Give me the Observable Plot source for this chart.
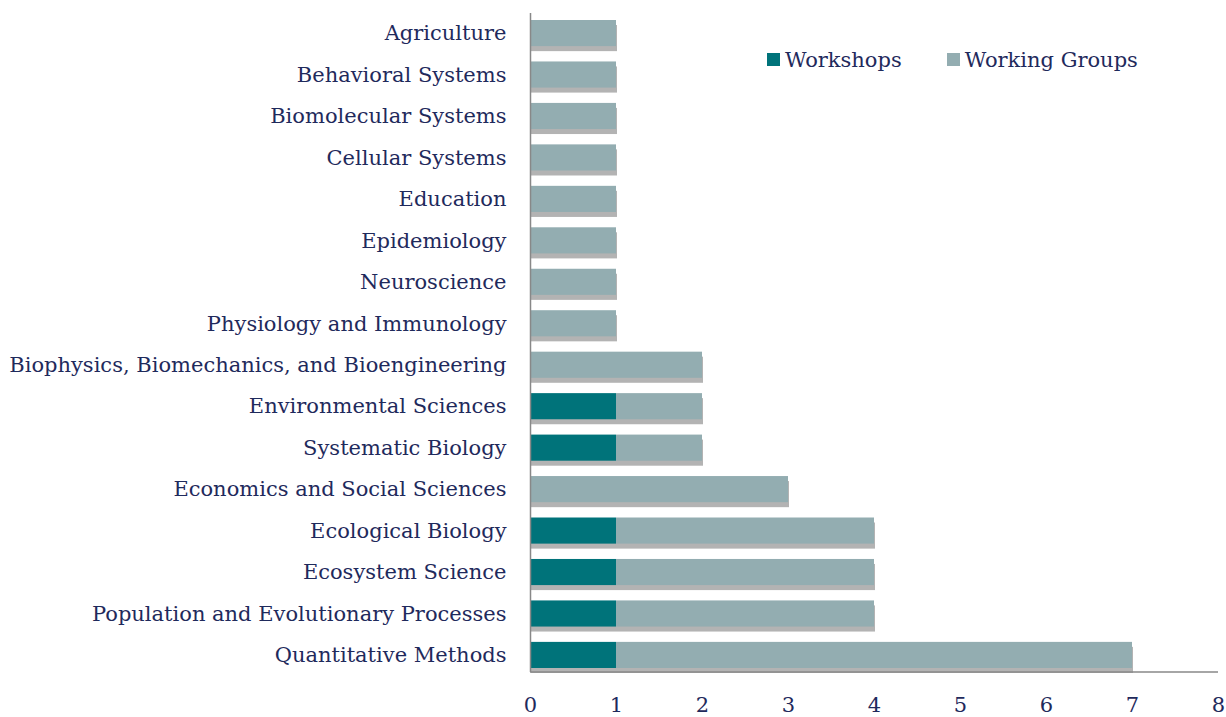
<!DOCTYPE html>
<html>
<head>
<meta charset="utf-8">
<script src="https://cdn.jsdelivr.net/npm/d3@7"></script>
<script src="https://cdn.jsdelivr.net/npm/@observablehq/plot@0.6"></script>
<style>
  html, body { margin: 0; padding: 0; background: #fff; }
  #wrap { position: relative; width: 1226px; height: 717px; }
  #legend { position: absolute; left: 767px; top: 48px; font-family: "DejaVu Serif", serif; font-size: 21px; color: #1f2a5c; display: flex; gap: 45px; white-space: nowrap; }
  #legend span.sw { display: inline-block; width: 13px; height: 13px; margin-right: 5px; vertical-align: 1px; }
</style>
</head>
<body>
<div id="wrap"><div id="legend"></div></div>
<script>
const categories = [
  "Agriculture", "Behavioral Systems", "Biomolecular Systems", "Cellular Systems",
  "Education", "Epidemiology", "Neuroscience", "Physiology and Immunology",
  "Biophysics, Biomechanics, and Bioengineering", "Environmental Sciences",
  "Systematic Biology", "Economics and Social Sciences", "Ecological Biology",
  "Ecosystem Science", "Population and Evolutionary Processes", "Quantitative Methods"
];
const workshops     = [0,0,0,0,0,0,0,0,0,1,1,0,1,1,1,1];
const workingGroups = [1,1,1,1,1,1,1,1,2,1,1,3,3,3,3,6];
const seriesNames = ["Workshops", "Working Groups"];
const seriesColors = ["#00737a", "#93adb1"];
const xTicks = [0,1,2,3,4,5,6,7,8];

const data = [];
categories.forEach((c, i) => {
  data.push({category: c, series: "Workshops", value: workshops[i]});
  data.push({category: c, series: "Working Groups", value: workingGroups[i]});
});

const textColor = "#1f2a5c";
const fontFamily = "DejaVu Serif, serif";

const plot = Plot.plot({
  width: 1226,
  height: 717,
  marginLeft: 530,
  marginRight: 8,
  marginTop: 13,
  marginBottom: 45,
  style: {fontFamily, fontSize: "21px", color: textColor, background: "#fff"},
  x: {domain: [0, 8], ticks: xTicks, tickSize: 0, tickPadding: 25, label: null, tickFormat: d3.format("d")},
  y: {domain: categories, range: [20, 668], tickSize: 0, tickPadding: 24, label: null, paddingInner: 0.37, paddingOuter: 0, round: false},
  color: {domain: seriesNames, range: seriesColors},
  marks: [
    Plot.barX(data, Plot.stackX({x: "value", y: "category", z: "series", fill: "#999", fillOpacity: 0.75, dy: 5, dx: 1, ariaLabel: "shadow"})),
    Plot.barX(data, Plot.stackX({x: "value", y: "category", z: "series", fill: "series"})),
    Plot.ruleX([0], {stroke: "#888", strokeWidth: 1.5})
  ]
});

// blur the shadow bars
const svg = d3.select(plot);
const defs = svg.insert("defs", ":first-child");
defs.append("filter").attr("id", "blur").attr("x", "-10%").attr("y", "-50%").attr("width", "120%").attr("height", "200%")
  .append("feGaussianBlur").attr("stdDeviation", 1.8);
svg.select('g[aria-label="shadow"]').attr("filter", "url(#blur)");

// bottom axis line
const xs = plot.scale("x");
const yBottom = 717 - 45;
svg.append("line")
  .attr("x1", xs.apply(0)).attr("x2", xs.apply(8))
  .attr("y1", yBottom).attr("y2", yBottom)
  .attr("stroke", "#888").attr("stroke-width", 1.5);

document.getElementById("wrap").prepend(plot);
plot.style.position = "absolute"; plot.style.left = "0"; plot.style.top = "0";

const legend = d3.select("#legend");
seriesNames.forEach((s, i) => {
  const item = legend.append("div");
  item.append("span").attr("class", "sw").style("background", seriesColors[i]);
  item.append("span").text(s);
});
</script>
</body>
</html>
